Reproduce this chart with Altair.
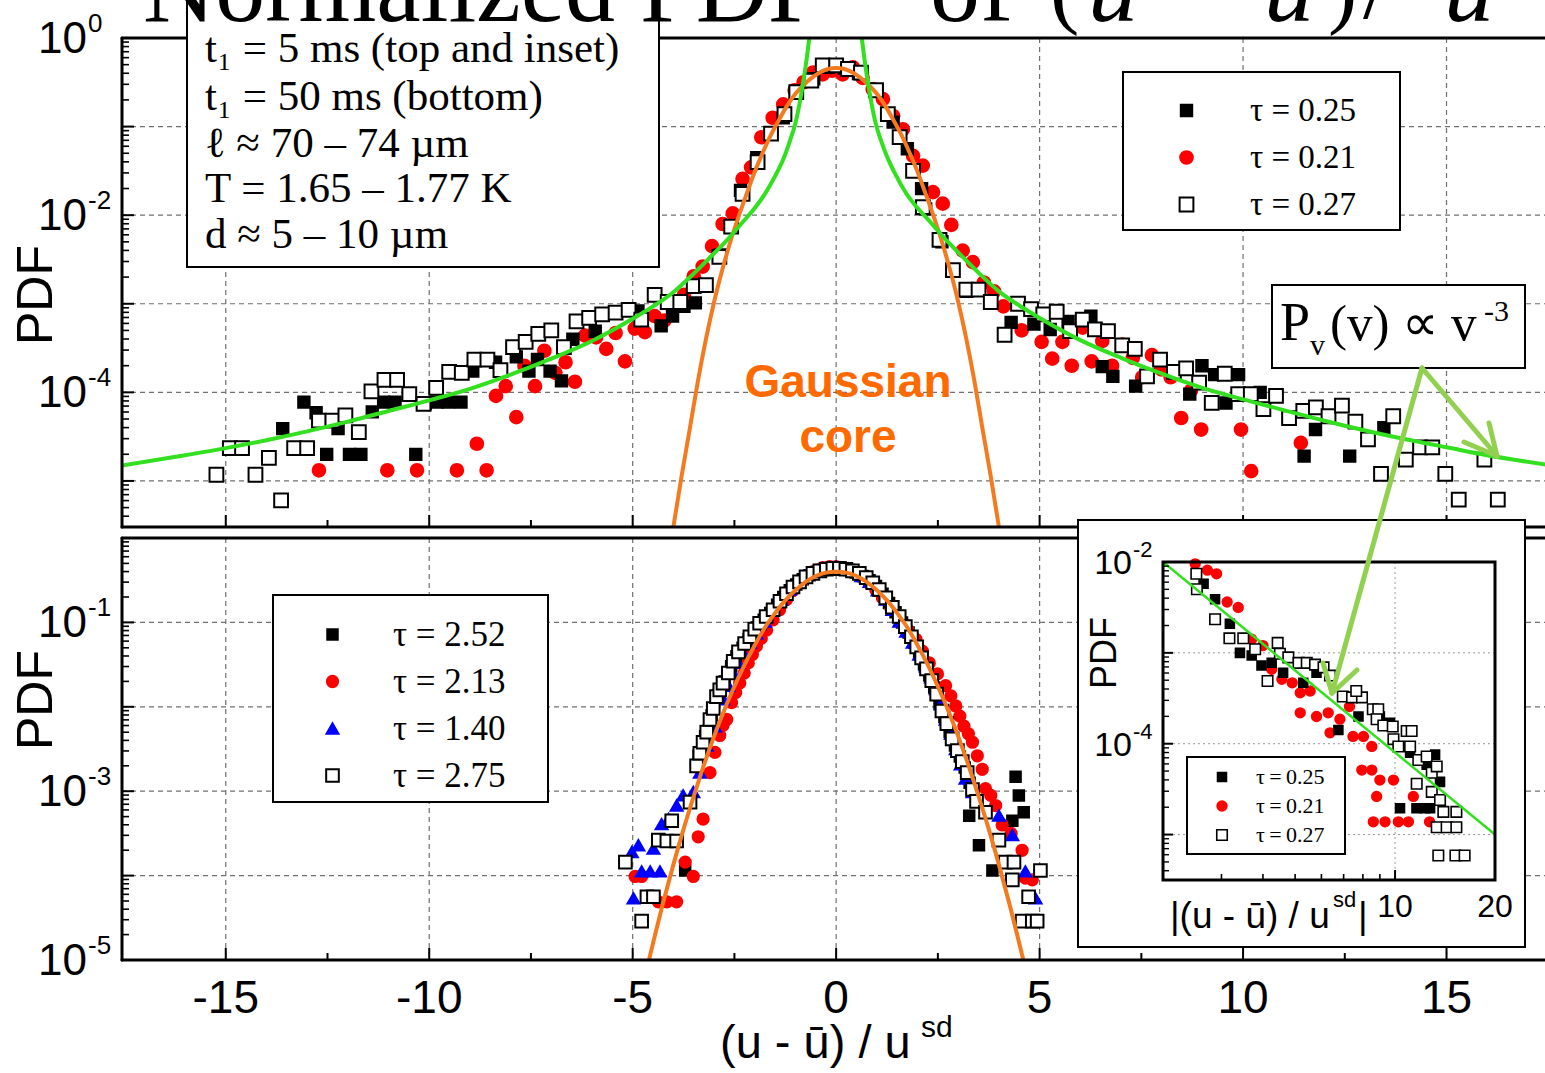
import altair as alt
import pandas as pd

# ---------------- values: (x, log10 PDF) ----------------
# top panel, t1 = 5 ms
TOP_T025 = [(-13.6,-4.41),(-13.08,-4.11),(-12.78,-4.23),(-12.52,-4.70),(-12.24,-4.41),(-11.96,-4.70),
            (-11.68,-4.70),(-11.4,-4.22),(-11.12,-4.11),(-10.84,-4.11),(-10.33,-4.70),(-10.1,-4.13),
            (-9.81,-4.11),(-9.53,-4.11),(-9.22,-4.11),(-8.93,-3.76),(-8.37,-3.66),(-7.86,-3.60),
            (-7.55,-3.76),(-7.34,-3.63),(-7.03,-3.76),(-6.75,-3.87),(-6.47,-3.40),(-5.92,-3.31),
            (-4.87,-3.08),(-4.3,-3.25),(-4.02,-3.14),(-3.74,-3.03),(-3.46,-2.99),(-2.85,-2.45),
            (-2.35,-1.72),(-1.95,-1.35),(-1.3,-0.90),(-1.0,-0.62),(-0.55,-0.46),(-0.2,-0.33),
            (0.2,-0.34),(0.55,-0.40),(1.0,-0.60),(1.4,-0.95),(1.75,-1.25),(2.1,-1.70),(2.2,-1.93),
            (2.6,-2.30),(3.2,-2.86),(4.3,-3.21),(4.86,-3.23),(5.26,-3.29),(5.7,-3.20),(6.26,-3.14),
            (6.54,-3.71),(6.8,-3.82),(7.36,-3.93),(8.69,-4.02),(8.99,-3.70),(9.3,-3.80),(9.58,-4.12),
            (9.89,-3.80),(10.42,-4.00),(11.5,-4.72),(11.78,-4.42),(12.62,-4.72),(13.46,-4.40)]
TOP_T021 = [(-12.71,-4.88),(-11.03,-4.88),(-10.3,-4.88),(-9.32,-4.88),(-8.83,-4.58),(-8.59,-4.88),
            (-8.36,-4.04),(-8.12,-3.93),(-7.86,-4.28),(-7.66,-3.70),(-7.4,-3.93),(-7.17,-3.53),
            (-6.9,-3.78),(-6.65,-3.66),(-6.42,-3.88),(-6.17,-3.36),(-5.9,-3.38),(-5.65,-3.51),
            (-5.42,-3.33),(-5.19,-3.65),(-4.95,-3.28),(-4.7,-3.32),(-4.46,-3.14),(-4.22,-3.19),
            (-3.97,-3.01),(-3.74,-2.90),(-3.5,-2.69),(-3.28,-2.58),(-3.05,-2.35),(-2.79,-2.10),
            (-2.54,-1.98),(-2.3,-1.59),(-2.09,-1.46),(-1.84,-1.12),(-1.56,-0.90),(-1.3,-0.75),
            (-1.02,-0.59),(-0.8,-0.50),(-0.57,-0.39),(-0.33,-0.41),(-0.1,-0.37),(0.16,-0.41),
            (0.41,-0.33),(0.65,-0.45),(0.9,-0.58),(1.15,-0.69),(1.4,-0.88),(1.64,-1.03),(1.89,-1.33),
            (2.13,-1.44),(2.38,-1.74),(2.62,-1.87),(2.83,-2.11),(3.11,-2.40),(3.36,-2.53),(3.63,-2.76),
            (3.88,-2.86),(4.11,-3.03),(4.56,-3.30),(5.05,-3.43),(5.31,-3.62),(5.56,-3.43),(5.79,-3.70),
            (6.06,-3.27),(6.28,-3.65),(6.54,-3.42),(6.78,-3.70),(7.04,-3.46),(7.29,-3.61),(7.52,-3.83),
            (7.76,-3.58),(7.99,-3.74),(8.22,-3.83),(8.48,-4.29),(8.72,-3.98),(8.97,-4.42),(9.95,-4.42),
            (10.2,-4.89),(11.42,-4.57)]
TOP_T027 = [(-15.23,-4.93),(-14.9,-4.63),(-14.6,-4.63),(-14.27,-4.93),(-13.94,-4.74),(-13.64,-5.22),
            (-13.32,-4.63),(-13.0,-4.63),(-12.71,-4.32),(-12.38,-4.32),(-12.06,-4.26),(-11.73,-4.45),
            (-11.42,-3.99),(-11.1,-3.86),(-10.79,-3.86),(-10.49,-4.02),(-10.14,-4.13),(-9.83,-3.95),
            (-9.51,-3.77),(-9.2,-3.78),(-8.89,-3.63),(-8.57,-3.63),(-8.25,-3.75),(-7.94,-3.49),
            (-7.63,-3.43),(-7.32,-3.34),(-7.0,-3.30),(-6.69,-3.49),(-6.38,-3.20),(-6.07,-3.16),
            (-5.75,-3.12),(-5.42,-3.10),(-5.1,-3.07),(-4.79,-3.18),(-4.46,-2.90),(-4.14,-2.98),
            (-3.83,-2.98),(-3.5,-2.80),(-3.2,-2.79),(-2.87,-2.47),(-2.58,-2.13),(-2.3,-1.76),
            (-1.93,-1.40),(-1.6,-1.08),(-1.27,-0.86),(-0.98,-0.61),(-0.61,-0.48),(-0.33,-0.31),
            (0.0,-0.31),(0.29,-0.35),(0.61,-0.39),(0.98,-0.59),(1.27,-0.86),(1.56,-1.12),(1.89,-1.50),
            (2.13,-1.91),(2.54,-2.28),(2.87,-2.62),(3.2,-2.84),(3.5,-2.84),(3.8,-2.98),(4.14,-3.35),
            (4.47,-3.00),(4.79,-3.06),(5.09,-3.12),(5.42,-3.09),(5.75,-3.31),(6.06,-3.18),(6.36,-3.29),
            (6.68,-3.31),(7.03,-3.47),(7.34,-3.51),(7.64,-3.82),(7.96,-3.63),(8.3,-3.77),(8.6,-3.73),
            (8.92,-3.89),(9.23,-4.12),(9.55,-3.79),(9.88,-4.02),(10.19,-4.02),(10.5,-4.19),
            (10.81,-4.04),(11.13,-4.29),(11.48,-4.21),(11.79,-4.17),(12.1,-4.27),(12.43,-4.15),
            (12.76,-4.33),(13.07,-4.53),(13.39,-4.92),(13.69,-4.27),(14.0,-4.76),(14.35,-4.62),
            (14.65,-4.62),(14.97,-4.92),(15.3,-5.21),(15.93,-4.76),(16.26,-5.21)]
TOP_LABELS = ["τ = 0.25", "τ = 0.21", "τ = 0.27"]

ORANGE_TOP = [(-4.0,-5.52),(-3.8,-4.95),(-3.6,-4.42),(-3.4,-3.88),(-3.2,-3.40),(-3.0,-2.98),
              (-2.8,-2.62),(-2.6,-2.30),(-2.4,-2.02),(-2.2,-1.76),(-2.0,-1.51),(-1.8,-1.29),
              (-1.6,-1.09),(-1.4,-0.92),(-1.2,-0.76),(-1.0,-0.63),(-0.8,-0.53),(-0.6,-0.45),
              (-0.4,-0.39),(-0.2,-0.35),(0.0,-0.34),(0.2,-0.35),(0.4,-0.39),(0.6,-0.45),(0.8,-0.53),
              (1.0,-0.63),(1.2,-0.76),(1.4,-0.92),(1.6,-1.09),(1.8,-1.29),(2.0,-1.51),(2.2,-1.76),
              (2.4,-2.02),(2.6,-2.30),(2.8,-2.62),(3.0,-2.98),(3.2,-3.40),(3.4,-3.88),(3.6,-4.42),
              (3.8,-4.95),(4.0,-5.52)]
GREEN_LEFT = [(-17.6,-4.83),(-16,-4.71),(-15,-4.63),(-14,-4.54),(-13,-4.44),(-12,-4.33),(-11,-4.21),
              (-10,-4.09),(-9,-3.96),(-8,-3.80),(-7,-3.62),(-6,-3.42),(-5,-3.17),(-4.5,-3.03),
              (-4,-2.87),(-3.5,-2.66),(-3,-2.43),(-2.7,-2.29),(-2.3,-2.08),(-2,-1.92),(-1.75,-1.76),
              (-1.5,-1.56),(-1.3,-1.37),(-1.15,-1.18),(-1.0,-0.96),(-0.9,-0.74),(-0.8,-0.47),
              (-0.72,-0.22),(-0.66,0.0),(-0.6,0.2)]
GREEN_RIGHT = [(0.58,0.2),(0.63,0.0),(0.69,-0.22),(0.77,-0.47),(0.87,-0.74),(0.97,-0.96),(1.12,-1.18),
               (1.28,-1.37),(1.48,-1.56),(1.73,-1.76),(2.0,-1.92),(2.3,-2.07),(2.7,-2.28),(3,-2.42),
               (3.5,-2.65),(4,-2.86),(4.5,-3.02),(5,-3.16),(6,-3.41),(7,-3.61),(8,-3.79),(9,-3.95),
               (10,-4.08),(11,-4.20),(12,-4.32),(13,-4.43),(14,-4.53),(15,-4.62),(16,-4.71),(17.5,-4.82)]

# bottom panel, t1 = 50 ms
BOT_T252 = [(-3.71,-3.94),(-3.38,-2.58),(-3.22,-2.35),(-3.06,-2.10),(-2.90,-1.86),(-2.74,-1.70),
            (-2.58,-1.52),(-2.45,-1.40),(-2.30,-1.30),(-2.15,-1.20),(-1.95,-1.06),(-1.78,-0.97),
            (-1.62,-0.89),(-1.45,-0.79),(-1.30,-0.70),(-1.14,-0.62),(-0.98,-0.55),(-0.82,-0.49),
            (-0.65,-0.44),(-0.48,-0.40),(-0.32,-0.38),(-0.16,-0.37),(0.0,-0.36),(0.16,-0.37),
            (0.32,-0.38),(0.48,-0.41),(0.65,-0.45),(0.82,-0.50),(0.98,-0.57),(1.14,-0.66),(1.30,-0.77),
            (1.46,-0.88),(1.62,-1.00),(1.78,-1.12),(1.92,-1.24),(2.04,-1.36),(2.16,-1.50),(2.29,-1.63),
            (2.41,-1.77),(2.54,-1.96),(2.66,-2.12),(2.79,-2.30),(2.92,-2.46),(3.04,-2.59),(3.16,-2.72),
            (3.28,-2.90),(3.27,-3.29),(3.51,-3.64),(3.84,-3.94),(4.33,-3.35),(4.41,-2.83),(4.49,-3.05),
            (4.61,-3.25)]
BOT_T213 = [(-4.94,-4.01),(-4.78,-4.01),(-4.37,-4.31),(-4.16,-4.31),(-3.92,-4.31),(-3.71,-3.84),
            (-3.51,-4.01),(-3.39,-3.54),(-3.27,-3.33),(-3.10,-2.78),(-2.98,-2.54),(-2.86,-2.34),
            (-2.78,-2.22),(-2.69,-2.15),(-2.57,-1.95),(-2.47,-1.83),(-2.37,-1.72),(-2.26,-1.60),
            (-2.16,-1.48),(-2.06,-1.38),(-1.96,-1.28),(-1.84,-1.19),(-1.71,-1.09),(-1.55,-0.97),
            (-1.39,-0.85),(-1.22,-0.73),(-1.06,-0.62),(-0.85,-0.52),(-0.65,-0.43),(-0.49,-0.38),
            (-0.33,-0.35),(-0.16,-0.34),(0.0,-0.34),(0.2,-0.36),(0.41,-0.40),(0.62,-0.46),(0.82,-0.54),
            (0.98,-0.62),(1.14,-0.71),(1.35,-0.84),(1.55,-0.97),(1.75,-1.08),(1.96,-1.20),(2.12,-1.34),
            (2.29,-1.48),(2.49,-1.61),(2.69,-1.75),(2.82,-1.87),(2.94,-1.99),(3.04,-2.11),(3.14,-2.23),
            (3.25,-2.32),(3.35,-2.42),(3.47,-2.58),(3.59,-2.74),(3.67,-2.97),(3.80,-3.05),(3.92,-3.17),
            (4.08,-3.40),(4.30,-3.50),(4.57,-3.70),(4.65,-4.03),(4.82,-4.05)]
BOT_T140 = [(-5.02,-3.72),(-4.98,-4.27),(-4.86,-3.64),(-4.78,-3.95),(-4.57,-3.95),(-4.49,-3.68),
            (-4.33,-3.95),(-4.29,-3.39),(-4.12,-3.33),(-3.92,-3.17),(-3.76,-3.05),(-3.51,-3.01),
            (-3.35,-2.78),(-3.18,-2.46),(-2.98,-2.23),(-2.78,-1.91),(-2.65,-1.75),(-2.53,-1.60),
            (-2.41,-1.48),(-2.29,-1.36),(-2.12,-1.24),(-1.96,-1.13),(-1.75,-0.99),(-1.55,-0.85),
            (-1.35,-0.73),(-1.14,-0.61),(-0.93,-0.52),(-0.73,-0.44),(-0.53,-0.39),(-0.33,-0.36),
            (-0.16,-0.35),(0.0,-0.34),(0.2,-0.36),(0.41,-0.39),(0.62,-0.45),(0.82,-0.52),(1.02,-0.62),
            (1.22,-0.73),(1.38,-0.85),(1.55,-0.99),(1.72,-1.11),(1.88,-1.24),(2.04,-1.38),(2.20,-1.52),
            (2.33,-1.65),(2.45,-1.79),(2.57,-1.97),(2.69,-2.15),(2.82,-2.32),(2.94,-2.50),(3.06,-2.68),
            (3.18,-2.85),(3.35,-3.01),(4.0,-3.29),(4.33,-3.52),(4.65,-3.95),(4.90,-4.27)]
BOT_T275 = [(-5.18,-3.84),(-4.78,-4.54),(-4.65,-4.25),(-4.49,-4.25),(-4.37,-3.58),(-4.16,-3.59),
            (-4.04,-3.35),(-3.92,-3.59),(-3.59,-3.13),(-3.43,-2.70),(-3.35,-2.55),(-3.27,-2.42),
            (-3.18,-2.30),(-3.10,-2.15),(-3.02,-2.02),(-2.94,-1.88),(-2.86,-1.80),(-2.78,-1.72),
            (-2.65,-1.60),(-2.53,-1.46),(-2.40,-1.35),(-2.25,-1.25),(-2.12,-1.17),(-2.0,-1.08),
            (-1.88,-1.01),(-1.72,-0.93),(-1.55,-0.85),(-1.38,-0.75),(-1.22,-0.66),(-1.06,-0.58),
            (-0.90,-0.52),(-0.74,-0.46),(-0.57,-0.42),(-0.40,-0.39),(-0.24,-0.37),(-0.08,-0.36),
            (0.08,-0.36),(0.24,-0.37),(0.40,-0.39),(0.57,-0.42),(0.74,-0.47),(0.90,-0.53),(1.06,-0.61),
            (1.22,-0.71),(1.38,-0.82),(1.55,-0.93),(1.70,-1.05),(1.85,-1.17),(1.98,-1.29),(2.10,-1.42),
            (2.22,-1.55),(2.35,-1.69),(2.47,-1.85),(2.60,-2.05),(2.72,-2.20),(2.85,-2.38),(2.98,-2.52),
            (3.10,-2.65),(3.22,-2.78),(3.35,-2.98),(3.45,-3.12),(3.67,-3.25),(4.0,-3.58),(4.16,-3.84),
            (4.37,-3.84),(4.33,-4.05),(4.73,-4.25),(5.02,-3.94),(4.57,-4.54),(4.82,-4.54),(4.94,-4.54)]
BOT_LABELS = ["τ = 2.52", "τ = 2.13", "τ = 1.40", "τ = 2.75"]

ORANGE_BOT = [(-4.6,-5.0),(-4.25,-4.32),(-4.0,-3.87),(-3.75,-3.45),(-3.5,-3.06),(-3.25,-2.69),
              (-3.0,-2.35),(-2.75,-2.04),(-2.5,-1.76),(-2.25,-1.50),(-2.0,-1.27),(-1.75,-1.06),
              (-1.5,-0.89),(-1.25,-0.74),(-1.0,-0.62),(-0.75,-0.52),(-0.5,-0.45),(-0.25,-0.41),
              (0.0,-0.40),(0.25,-0.41),(0.5,-0.45),(0.75,-0.52),(1.0,-0.62),(1.25,-0.74),(1.5,-0.89),
              (1.75,-1.06),(2.0,-1.27),(2.25,-1.50),(2.5,-1.76),(2.75,-2.04),(3.0,-2.35),(3.25,-2.69),
              (3.5,-3.06),(3.75,-3.45),(4.0,-3.87),(4.25,-4.32),(4.6,-5.0)]

# inset: |x| (log axis) vs log10 PDF
IN_T025 = [(2.65,-2.24),(2.87,-2.41),(3.18,-2.68),(3.41,-3.00),(3.7,-3.03),(3.96,-3.14),(4.25,-3.11),
           (4.6,-3.22),(5.29,-3.33),(5.8,-3.22),(6.75,-3.85),(7.76,-3.70),(9.0,-3.70),(9.66,-3.77),
           (11.1,-4.10),(12.45,-4.23),(13.2,-4.12),(13.66,-4.42),(10.35,-4.71),(11.6,-4.71),
           (12.3,-4.71),(12.75,-4.71)]
IN_T021 = [(2.5,-2.02),(2.72,-2.09),(2.9,-2.13),(3.12,-2.44),(3.37,-2.50),(3.7,-2.85),(4.0,-2.92),
           (4.25,-3.18),(4.56,-3.29),(4.9,-3.33),(5.18,-3.44),(5.55,-3.42),(5.18,-3.66),(5.8,-3.70),
           (6.29,-3.66),(6.37,-3.88),(6.82,-3.73),(7.29,-3.59),(7.47,-3.92),(8.03,-3.92),(8.51,-4.03),
           (7.94,-4.29),(8.51,-4.29),(9.0,-4.40),(9.89,-4.40),(8.8,-4.58),(11.35,-4.58),(8.6,-4.86),
           (9.33,-4.86),(10.23,-4.86),(10.97,-4.86),(12.7,-4.86)]
IN_T027 = [(2.52,-2.13),(2.53,-2.30),(2.87,-2.63),(3.17,-2.84),(3.49,-2.84),(3.79,-2.96),(4.13,-3.31),
           (4.43,-2.89),(4.5,-3.01),(4.77,-3.05),(5.12,-3.11),(5.42,-3.11),(5.74,-3.13),(6.09,-3.16),
           (6.37,-3.25),(6.96,-3.48),(7.42,-3.49),(7.95,-3.49),(7.64,-3.42),(8.57,-3.62),(8.9,-3.62),
           (8.8,-3.73),(9.22,-3.80),(9.84,-3.81),(9.89,-3.95),(10.23,-4.03),(10.84,-3.86),(11.22,-3.86),
           (11.1,-4.03),(11.75,-4.18),(12.45,-4.14),(12.9,-4.32),(13.35,-4.25),(11.62,-4.44),
           (12.9,-4.53),(13.66,-4.62),(13.98,-4.75),(15.3,-4.75),(13.35,-4.92),(14.3,-4.92),
           (15.3,-4.92),(13.5,-5.23),(15.2,-5.23),(16.2,-5.23)]
IN_LABELS = ["τ\u2009=\u20090.25", "τ\u2009=\u20090.21", "τ\u2009=\u20090.27"]
GREEN_INSET = [(2.0,-2.0),(20.0,-5.0)]

X_TICK_LABELS = ["-15", "-10", "-5", "0", "5", "10", "15"]
X_TICK_VALUES = [-15, -10, -5, 0, 5, 10, 15]

# ---------------- layout (pixels, plot-group coordinates) ----------------
W = 1423
TOP_H = 489
BOT_T, BOT_B = 500, 922
IN_X0, IN_X1, IN_Y0, IN_Y1 = 1041, 1373, 524, 842

SANS = "Liberation Sans"
SERIF = "Liberation Serif"
GRID = "#707070"
ORANGE = "#f47a20"
GREEN = "#33e01f"
ARROW = "#92d050"

xs_main = alt.Scale(domain=[-17.55, 17.42], range=[0, W], nice=False, zero=False)
ys_top = alt.Scale(type="log", domain=[10 ** -5.52, 1.0], range=[TOP_H, 0], nice=False)
ys_bot = alt.Scale(type="log", domain=[1e-5, 1.0], range=[BOT_B, BOT_T], nice=False)
xs_in = alt.Scale(type="log", domain=[2, 20], range=[IN_X0, IN_X1], nice=False)
ys_in = alt.Scale(type="log", domain=[10 ** -5.5, 1e-2], range=[IN_Y1, IN_Y0], nice=False)

ONE = pd.DataFrame({"k": [0]})


def pts(pairs, label=None):
    d = pd.DataFrame({"x": [p[0] for p in pairs], "pdf": [10 ** p[1] for p in pairs]})
    if label is not None:
        d["ser"] = label
    return d


def X(f, s):
    return alt.X(f"{f}:Q", scale=s, axis=None)


def Y(f, s):
    return alt.Y(f"{f}:Q", scale=s, axis=None)


def txt(s, x, y, size, font=SANS, align="left", baseline="alphabetic", color="black",
        angle=0, weight="normal", style="normal"):
    kw = dict(text=s, fontSize=size, font=font, align=align, baseline=baseline, color=color,
              fontWeight=weight, fontStyle=style)
    if angle:
        kw["angle"] = angle
    return alt.Chart(ONE).mark_text(**kw).encode(x=alt.value(x), y=alt.value(y))


def seg(x1, y1, x2, y2, color="black", width=3):
    return alt.Chart(ONE).mark_rule(color=color, strokeWidth=width, strokeCap="round").encode(
        x=alt.value(x1), y=alt.value(y1), x2=alt.value(x2), y2=alt.value(y2))


def box(x1, y1, x2, y2, width=2, filled=True):
    kw = dict(stroke="black", strokeWidth=width)
    if filled:
        kw["fill"] = "white"
    else:
        kw["fillOpacity"] = 0
    return alt.Chart(ONE).mark_rect(**kw).encode(
        x=alt.value(x1), y=alt.value(y1), x2=alt.value(x2), y2=alt.value(y2))


def xgrid(vals, s, y1, y2, dash=(5, 4), color=GRID, w=1.2):
    return alt.Chart(pd.DataFrame({"v": vals})).mark_rule(
        color=color, strokeWidth=w, strokeDash=list(dash)).encode(
        x=X("v", s), y=alt.value(y1), y2=alt.value(y2))


def ygrid(vals, s, x1, x2, dash=(5, 4), color=GRID, w=1.2):
    return alt.Chart(pd.DataFrame({"v": vals})).mark_rule(
        color=color, strokeWidth=w, strokeDash=list(dash)).encode(
        y=Y("v", s), x=alt.value(x1), x2=alt.value(x2))


def xticks(vals, s, ybase, length, w=2):
    return alt.Chart(pd.DataFrame({"v": vals})).mark_rule(color="black", strokeWidth=w).encode(
        x=X("v", s), y=alt.value(ybase), y2=alt.value(ybase - length))


def yticks(vals, s, xbase, length, w=2):
    return alt.Chart(pd.DataFrame({"v": vals})).mark_rule(color="black", strokeWidth=w).encode(
        y=Y("v", s), x=alt.value(xbase), x2=alt.value(xbase + length))


def ylabels(vals, exps, s, xr, fs, fsup, dyb, dys):
    d = pd.DataFrame({"v": vals, "b": ["10"] * len(vals), "e": exps})
    base = alt.Chart(d).mark_text(align="right", baseline="middle", fontSize=fs, font=SANS,
                                  dy=dyb, color="black").encode(x=alt.value(xr), y=Y("v", s), text="b:N")
    sup = alt.Chart(d).mark_text(align="left", baseline="middle", fontSize=fsup, font=SANS,
                                 dy=dys, color="black").encode(x=alt.value(xr + 1), y=Y("v", s), text="e:N")
    return alt.layer(base, sup)


def scatter(d, labels, fills, strokes, shapes, sizes, xs, ys, leg, sw=2.0):
    return alt.Chart(d).mark_point(filled=True, opacity=1, strokeWidth=sw).encode(
        x=X("x", xs), y=Y("pdf", ys),
        fill=alt.Fill("ser:N", scale=alt.Scale(domain=labels, range=fills), legend=leg),
        stroke=alt.Stroke("ser:N", scale=alt.Scale(domain=labels, range=strokes), legend=leg),
        shape=alt.Shape("ser:N", scale=alt.Scale(domain=labels, range=shapes), legend=leg),
        size=alt.Size("ser:N", scale=alt.Scale(domain=labels, range=sizes), legend=leg),
    )


def curve(d, xs, ys, color, w, detail=False):
    enc = dict(x=X("x", xs), y=Y("pdf", ys))
    if detail:
        enc["detail"] = "br:N"
    return alt.Chart(d).mark_line(color=color, strokeWidth=w, interpolate="monotone",
                                  clip=True).encode(**enc)


def log_minor(lo, hi):
    out = []
    for e in range(-7, 2):
        for m in range(2, 10):
            v = m * 10.0 ** e
            if lo < v < hi:
                out.append(v)
    return out


# ---------------- top panel ----------------
top_df = pd.concat([pts(TOP_T021, TOP_LABELS[1]), pts(TOP_T025, TOP_LABELS[0]),
                    pts(TOP_T027, TOP_LABELS[2])], ignore_index=True)
gl = pts(GREEN_LEFT); gl["br"] = "L"
gr = pts(GREEN_RIGHT); gr["br"] = "R"
green_df = pd.concat([gl, gr], ignore_index=True)

leg_top = alt.Legend(orient="none", legendX=1048, legendY=56, title=None, padding=0,
                     labelFont=SERIF, labelFontSize=33, labelColor="black", labelOffset=47,
                     rowPadding=13, symbolStrokeWidth=2, labelLimit=400)

top_layer = alt.layer(
    xgrid(X_TICK_VALUES, xs_main, 0, TOP_H),
    ygrid([1e-1, 1e-2, 1e-3, 1e-4, 1e-5], ys_top, 0, W),
    box(1001, 34, 1278, 192),
    scatter(top_df, TOP_LABELS, ["black", "#ff0000", "white"], ["black", "#ff0000", "black"],
            ["square", "circle", "square"], [130, 190, 115], xs_main, ys_top, leg_top),
    curve(pts(ORANGE_TOP), xs_main, ys_top, ORANGE, 4),
    curve(green_df, xs_main, ys_top, GREEN, 4, detail=True),
    seg(0, 0, W, 0), seg(0, 0, 0, TOP_H), seg(0, TOP_H, W, TOP_H),
    xticks(X_TICK_VALUES, xs_main, TOP_H, 12),
    xticks([-12.5, -7.5, -2.5, 2.5, 7.5, 12.5], xs_main, TOP_H, 7),
    yticks([1, 1e-1, 1e-2, 1e-3, 1e-4, 1e-5], ys_top, 0, 12),
    yticks(log_minor(10 ** -5.52, 1.0), ys_top, 0, 7, w=1.6),
    ylabels([1, 1e-2, 1e-4], ["0", "-2", "-4"], ys_top, -35, 44, 26, 2, -14),
    txt("PDF", -85, 257, 50, angle=270, align="center", baseline="middle"),
    # info box
    box(65, -60, 537, 229),
    txt("t₁ = 5 ms (top and inset)", 83, 24, 43, font=SERIF),
    txt("t₁ = 50 ms (bottom)", 83, 72, 43, font=SERIF),
    txt("ℓ ≈ 70 – 74 µm", 83, 119, 43, font=SERIF),
    txt("T = 1.65 – 1.77 K", 83, 164, 43, font=SERIF),
    txt("d ≈ 5 – 10 µm", 83, 210, 43, font=SERIF),
    # annotations
    txt("Gaussian", 726, 359, 46, weight="bold", align="center", color="#ff6a00"),
    txt("core", 726, 414, 46, weight="bold", align="center", color="#ff6a00"),
    box(1150, 247, 1403, 330),
    txt("P", 1158, 302, 54, font=SERIF),
    txt("v", 1188, 317, 30, font=SERIF),
    txt("(v) ∝ v", 1208, 302, 51, font=SERIF),
    txt("-3", 1362, 283, 30, font=SERIF),
)

# ---------------- bottom panel ----------------
bot_df = pd.concat([pts(BOT_T252, BOT_LABELS[0]), pts(BOT_T213, BOT_LABELS[1]),
                    pts(BOT_T140, BOT_LABELS[2]), pts(BOT_T275, BOT_LABELS[3])], ignore_index=True)
leg_bot = alt.Legend(orient="none", legendX=193, legendY=579, title=None, padding=0,
                     labelFont=SERIF, labelFontSize=35, labelColor="black", labelOffset=43,
                     rowPadding=11, symbolStrokeWidth=2, labelLimit=400)
xlab_df = pd.DataFrame({"v": X_TICK_VALUES, "t": X_TICK_LABELS})

bottom_layer = alt.layer(
    xgrid(X_TICK_VALUES, xs_main, BOT_T, BOT_B),
    ygrid([1e-1, 1e-2, 1e-3, 1e-4], ys_bot, 0, W),
    box(151, 557, 426, 764),
    scatter(bot_df, BOT_LABELS, ["black", "#ff0000", "#0000ff", "white"],
            ["black", "#ff0000", "#0000ff", "black"],
            ["square", "circle", "triangle-up", "square"], [110, 160, 170, 100],
            xs_main, ys_bot, leg_bot),
    curve(pts(ORANGE_BOT), xs_main, ys_bot, ORANGE, 4),
    seg(0, BOT_T, W, BOT_T), seg(0, BOT_T, 0, BOT_B), seg(0, BOT_B, W, BOT_B),
    xticks(X_TICK_VALUES, xs_main, BOT_B, 12),
    xticks([-12.5, -7.5, -2.5, 2.5, 7.5, 12.5], xs_main, BOT_B, 7),
    yticks([1e-1, 1e-2, 1e-3, 1e-4, 1e-5], ys_bot, 0, 12),
    yticks(log_minor(1e-5, 1.0), ys_bot, 0, 7, w=1.6),
    ylabels([1e-1, 1e-3, 1e-5], ["-1", "-3", "-5"], ys_bot, -35, 44, 26, 2, -14),
    txt("PDF", -85, 662, 50, angle=270, align="center", baseline="middle"),
    alt.Chart(xlab_df).mark_text(fontSize=46, font=SANS, align="center", baseline="alphabetic",
                                 color="black").encode(x=X("v", xs_main), y=alt.value(975), text="t:N"),
    txt("(u - ū) / u", 598, 1020, 47),
    txt("sd", 799, 999, 30),
)

# ---------------- inset ----------------
in_df = pd.concat([pts(IN_T021, IN_LABELS[1]), pts(IN_T025, IN_LABELS[0]),
                   pts(IN_T027, IN_LABELS[2])], ignore_index=True)
leg_in = alt.Legend(orient="none", legendX=1089, legendY=728, title=None, padding=0,
                    labelFont=SERIF, labelFontSize=22, labelColor="black", labelOffset=23,
                    rowPadding=7, symbolStrokeWidth=1.6, labelLimit=300)
inlab_df = pd.DataFrame({"v": [10, 20], "t": ["10", "20"]})

inset_layer = alt.layer(
    box(956, 482, 1403, 909),
    xgrid([10], xs_in, IN_Y0, IN_Y1, dash=(2, 3), color="#999999", w=1),
    ygrid([1e-3, 1e-4, 1e-5], ys_in, IN_X0, IN_X1, dash=(2, 3), color="#999999", w=1),
    box(1065, 719, 1223, 816),
    scatter(in_df, IN_LABELS, ["black", "#ff0000", "white"], ["black", "#ff0000", "black"],
            ["square", "circle", "square"], [80, 110, 65], xs_in, ys_in, leg_in, sw=1.6),
    curve(pts(GREEN_INSET), xs_in, ys_in, GREEN, 2.5),
    box(IN_X0, IN_Y0, IN_X1, IN_Y1, width=3, filled=False),
    yticks([1e-2, 1e-3, 1e-4, 1e-5], ys_in, IN_X0, 10),
    yticks(log_minor(10 ** -5.5, 1e-2), ys_in, IN_X0, 6, w=1.4),
    xticks([3, 4, 5, 6, 7, 8, 9], xs_in, IN_Y1, 6, w=1.6),
    xticks([10, 20], xs_in, IN_Y1, 10),
    ylabels([1e-2, 1e-4], ["-2", "-4"], ys_in, 1010, 34, 22, 2, -12),
    txt("PDF", 983, 615, 36, angle=270, align="center", baseline="middle"),
    alt.Chart(inlab_df).mark_text(fontSize=32, font=SANS, align="center", baseline="alphabetic",
                                  color="black").encode(x=X("v", xs_in), y=alt.value(879), text="t:N"),
    txt("|(u - ū) / u", 1048, 890, 37),
    txt("sd", 1211, 869, 22),
    txt("|", 1236, 890, 37),
)

# ---------------- arrows and title ----------------
TY = -17
ann_layer = alt.layer(
    seg(1300, 330, 1375, 418, color=ARROW, width=5),
    seg(1375, 418, 1342, 404, color=ARROW, width=5),
    seg(1375, 418, 1367, 385, color=ARROW, width=5),
    seg(1300, 330, 1210, 655, color=ARROW, width=5),
    seg(1210, 655, 1201, 625, color=ARROW, width=5),
    seg(1210, 655, 1235, 632, color=ARROW, width=5),
    txt("Normalized PDF", 21, TY, 100, font=SERIF),
    txt("of", 808, TY, 100, font=SERIF),
    txt("(", 928, TY - 4, 88, font=SERIF),
    txt("u", 966, TY, 100, font=SERIF, style="italic"),
    txt("−", 1052, TY, 100, font=SERIF),
    txt("ū", 1142, TY, 100, font=SERIF, style="italic"),
    txt(")", 1206, TY - 4, 88, font=SERIF),
    txt("/", 1241, TY - 3, 92, font=SERIF),
    txt("ū", 1322, TY, 100, font=SERIF, style="italic"),
)

chart = alt.layer(top_layer, bottom_layer, inset_layer, ann_layer).resolve_scale(
    x="independent", y="independent", fill="independent", stroke="independent",
    shape="independent", size="independent",
).resolve_legend(
    fill="independent", stroke="independent", shape="independent", size="independent",
).properties(
    width=W, height=BOT_B,
    autosize=alt.AutoSizeParams(type="none"),
    padding={"left": 122, "top": 38, "right": 0, "bottom": 113},
).configure_view(stroke="transparent")

chart.save("out.html", embed_options={"renderer": "svg", "actions": False})
